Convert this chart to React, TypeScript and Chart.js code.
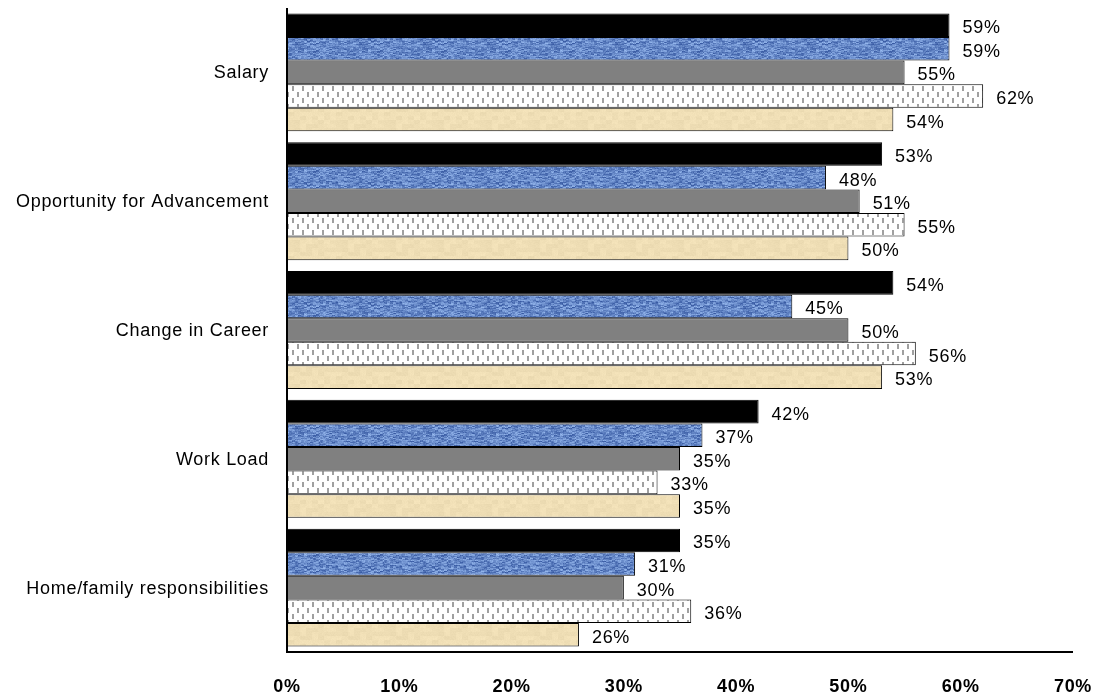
import React, { useEffect, useRef } from "react";
import { Chart, registerables } from "chart.js";

Chart.register(...registerables);

const categories = [
  "Salary",
  "Opportunity for Advancement",
  "Change in Career",
  "Work Load",
  "Home/family responsibilities",
];
const seriesA = [59, 53, 54, 42, 35];
const seriesB = [59, 48, 45, 37, 31];
const seriesC = [55, 51, 50, 35, 30];
const seriesD = [62, 55, 56, 33, 36];
const seriesE = [54, 50, 53, 35, 26];
const seriesNames = ["Series 1", "Series 2", "Series 3", "Series 4", "Series 5"];
const xTicks = [0, 10, 20, 30, 40, 50, 60, 70];

const FONT = '"Liberation Sans", Arial, sans-serif';

function hash(x: number, y: number, s: number) {
  let h = (x * 374761393 + y * 668265263 + s * 2147483647) | 0;
  h = (h ^ (h >>> 13)) * 1274126177;
  h = h ^ (h >>> 16);
  return ((h >>> 0) % 1000) / 1000;
}

function makeBluePattern(ctx: CanvasRenderingContext2D) {
  const c = document.createElement("canvas");
  c.width = 64;
  c.height = 24;
  const g = c.getContext("2d")!;
  const img = g.createImageData(64, 24);
  for (let y = 0; y < 24; y++) {
    for (let x = 0; x < 64; x++) {
      const run = Math.floor(x / 3);
      const h1 = hash(run, y, 1);
      const h2 = hash(x, y, 2);
      const v = (h1 - 0.45) * 70 + (h2 - 0.5) * 30;
      const i = (y * 64 + x) * 4;
      img.data[i] = Math.max(0, Math.min(255, 98 + v));
      img.data[i + 1] = Math.max(0, Math.min(255, 132 + v));
      img.data[i + 2] = Math.max(0, Math.min(255, 196 + v * 0.8));
      img.data[i + 3] = 255;
    }
  }
  g.putImageData(img, 0, 0);
  return ctx.createPattern(c, "repeat")!;
}

function makeTanPattern(ctx: CanvasRenderingContext2D) {
  const c = document.createElement("canvas");
  c.width = 48;
  c.height = 24;
  const g = c.getContext("2d")!;
  const img = g.createImageData(48, 24);
  for (let y = 0; y < 24; y++) {
    for (let x = 0; x < 48; x++) {
      const h1 = hash(Math.floor(x / 6), Math.floor(y / 4), 3);
      const h2 = hash(x, y, 4);
      const v = (h1 - 0.5) * 10 + (h2 - 0.5) * 5;
      const i = (y * 48 + x) * 4;
      img.data[i] = Math.max(0, Math.min(255, 240 + v));
      img.data[i + 1] = Math.max(0, Math.min(255, 223 + v));
      img.data[i + 2] = Math.max(0, Math.min(255, 182 + v));
      img.data[i + 3] = 255;
    }
  }
  g.putImageData(img, 0, 0);
  return ctx.createPattern(c, "repeat")!;
}

function makeDashPattern(ctx: CanvasRenderingContext2D) {
  const c = document.createElement("canvas");
  c.width = 10;
  c.height = 12;
  const g = c.getContext("2d")!;
  g.fillStyle = "#ffffff";
  g.fillRect(0, 0, 10, 12);
  g.fillStyle = "#a0a0a0";
  g.fillRect(2, 2, 2, 5);
  g.fillRect(7, 8, 2, 5);
  g.fillRect(7, 0, 2, 1);
  return ctx.createPattern(c, "repeat")!;
}

const overlayPlugin = {
  id: "overlay",
  afterDraw(chart: any) {
    const ctx: CanvasRenderingContext2D = chart.ctx;
    const { left, right, top, bottom } = chart.chartArea;
    const xs = chart.scales.x;
    const ys = chart.scales.y;
    ctx.save();
    ctx.strokeStyle = "#000";
    ctx.lineWidth = 2;
    ctx.beginPath();
    ctx.moveTo(left, top);
    ctx.lineTo(left, bottom);
    ctx.lineTo(right, bottom);
    ctx.stroke();

    (ctx as any).letterSpacing = "0.7px";
    ctx.fillStyle = "#000";
    ctx.font = `18px ${FONT}`;
    ctx.textAlign = "right";
    ctx.textBaseline = "middle";
    categories.forEach((c, i) => {
      ctx.fillText(c, left - 18, ys.getPixelForValue(i) + 1);
    });
    ctx.font = `bold 18px ${FONT}`;
    ctx.textAlign = "center";
    xTicks.forEach((t) => {
      ctx.fillText(`${t}%`, xs.getPixelForValue(t), bottom + 35);
    });
    ctx.font = `18px ${FONT}`;
    ctx.textAlign = "left";
    chart.data.datasets.forEach((ds: any, di: number) => {
      const meta = chart.getDatasetMeta(di);
      meta.data.forEach((bar: any, j: number) => {
        ctx.fillText(`${ds.data[j]}%`, bar.x + 13, bar.y + 3);
      });
    });
    ctx.restore();
  },
};

export default function App() {
  const ref = useRef<HTMLCanvasElement | null>(null);
  useEffect(() => {
    const canvas = ref.current!;
    const ctx = canvas.getContext("2d")!;
    const fills = [
      "#000000",
      makeBluePattern(ctx),
      "#808080",
      makeDashPattern(ctx),
      makeTanPattern(ctx),
    ];
    const values = [seriesA, seriesB, seriesC, seriesD, seriesE];
    const chart = new Chart(canvas, {
      type: "bar",
      data: {
        labels: categories,
        datasets: values.map((v, i) => ({
          label: seriesNames[i],
          data: v,
          backgroundColor: fills[i] as any,
          borderColor: "#000000",
          borderWidth: 1,
          borderSkipped: false,
          categoryPercentage: 0.915,
          barPercentage: 1,
        })),
      },
      options: {
        indexAxis: "y",
        responsive: false,
        animation: false,
        layout: { padding: { left: 287, right: 24, top: 8, bottom: 43 } },
        plugins: { legend: { display: false }, tooltip: { enabled: false } },
        scales: {
          x: { display: false, min: 0, max: 70 },
          y: { display: false },
        },
      },
      plugins: [overlayPlugin],
    });
    return () => chart.destroy();
  }, []);
  return (
    <canvas
      ref={ref}
      width={1097}
      height={695}
      style={{ position: "absolute", left: 0, top: 0, width: 1097, height: 695 }}
    />
  );
}
